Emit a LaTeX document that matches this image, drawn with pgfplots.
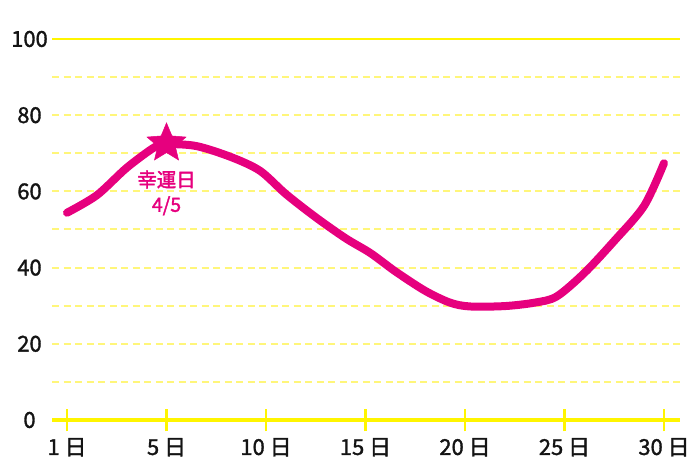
\documentclass[border=0pt]{standalone}
\usepackage{pgfplots}
\pgfplotsset{compat=1.18}
\usepackage{fontspec}
\setmainfont{Noto Sans CJK JP}
\newfontfamily\tickfont{Noto Sans CJK JP}[FakeBold=1.5]
\newfontfamily\labelfont{Noto Sans CJK JP}[FakeBold=2]
\definecolor{pinkline}{HTML}{E6007E}
\definecolor{axisyellow}{HTML}{FFF500}
\definecolor{gridyellow}{HTML}{FFF67A}

% filled five-point star
\pgfdeclareplotmark{fstar}{%
  \pgfpathmoveto{\pgfpointpolar{90}{\pgfplotmarksize}}%
  \pgfpathlineto{\pgfpointpolar{126}{0.45\pgfplotmarksize}}%
  \pgfpathlineto{\pgfpointpolar{162}{\pgfplotmarksize}}%
  \pgfpathlineto{\pgfpointpolar{198}{0.45\pgfplotmarksize}}%
  \pgfpathlineto{\pgfpointpolar{234}{\pgfplotmarksize}}%
  \pgfpathlineto{\pgfpointpolar{270}{0.45\pgfplotmarksize}}%
  \pgfpathlineto{\pgfpointpolar{306}{\pgfplotmarksize}}%
  \pgfpathlineto{\pgfpointpolar{342}{0.45\pgfplotmarksize}}%
  \pgfpathlineto{\pgfpointpolar{18}{\pgfplotmarksize}}%
  \pgfpathlineto{\pgfpointpolar{54}{0.45\pgfplotmarksize}}%
  \pgfpathclose\pgfusepathqfillstroke}

\begin{document}
\begin{tikzpicture}
\path[use as bounding box] (-52bp,-47bp) rectangle (648bp,420bp);
\begin{axis}[
  at={(0,0)}, anchor=south west,
  scale only axis, width=628bp, height=381bp,
  xmin=-0.151, xmax=6.161, ymin=0, ymax=100,
  clip=false,
  axis x line=bottom, axis y line=left,
  x axis line style={-, axisyellow, line width=3.5bp},
  y axis line style={draw=none},
  xtick={0,1,2,3,4,5,6},
  xticklabels={1 日,5 日,10 日,15 日,20 日,25 日,30 日},
  xtick style={axisyellow, line width=2.5bp},
  xtick align=center, major tick length=23bp,
  ytick={0,10,...,90}, yticklabels={0,,20,,40,,60,,80,},
  extra y ticks={100},
  ytick style={draw=none},
  ymajorgrids,
  major grid style={gridyellow, line width=2bp, dash pattern=on 7bp off 4.5bp},
  extra y tick style={grid=major, major grid style={axisyellow, line width=2bp, solid}},
  ticklabel style={font=\fontsize{22}{22}\tickfont, text=black!92},
  /pgf/number format/assume math mode=true,
  yticklabel style={anchor=center, xshift=-11bp},
  xticklabel style={yshift=-3bp},
]
\addplot[pinkline, line width=8bp, smooth, tension=0.5, line cap=round, line join=round] coordinates {
  (0,54.4) (0.3,59) (0.6,66.2) (0.88,71.6) (1,72.4)
  (1.3,71.9) (1.65,69) (1.94,65.4) (2.2,59.3) (2.5,53.2)
  (2.8,47.7) (3.05,43.8) (3.3,39) (3.6,33.9) (3.85,30.8) (4.05,29.8)
  (4.4,29.9) (4.7,30.8) (4.92,32.4) (5.2,38.6) (5.5,47)
  (5.8,56.2) (6,67.4)
};
\addplot[only marks, mark=fstar, mark size=20.5bp, pinkline,
  mark options={fill=pinkline, draw=pinkline, line width=0.5bp}]
  coordinates {(1,72.6)};
\node[text=pinkline, align=center, font=\fontsize{19.5}{25}\labelfont]
  at (axis cs:1,59.6) {幸運日\\4/5};
\end{axis}
\end{tikzpicture}
\end{document}
